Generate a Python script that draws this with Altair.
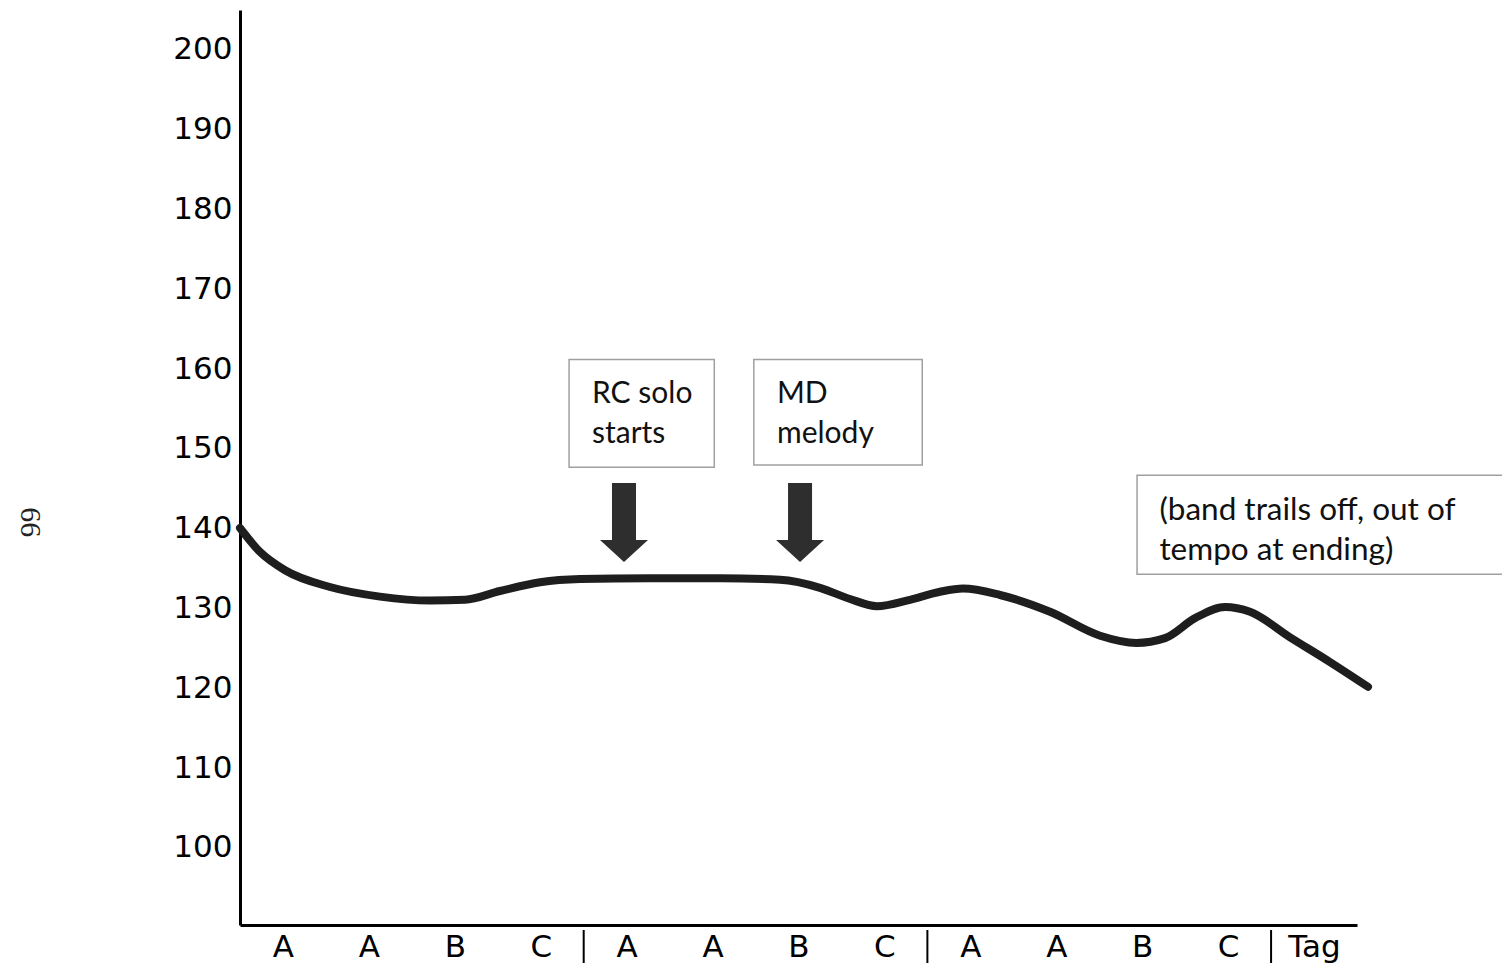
import altair as alt
import pandas as pd

# Tempo curve (x in section units, 0..13; y in BPM)
curve_x = [0, 0.233, 0.524, 1.047, 1.629, 2.211, 2.619, 3.026, 3.492, 3.957, 4.772, 5.587,
           6.285, 6.75, 7.1, 7.414, 7.798, 8.147, 8.415, 8.845, 9.427, 10.01, 10.43,
           10.766, 11.115, 11.464, 11.755, 12.221, 12.686, 13.128]
curve_y = [140.1, 137.1, 134.8, 132.7, 131.5, 131.0, 131.1, 132.2, 133.3, 133.7, 133.8, 133.8,
           133.6, 132.6, 131.2, 130.3, 131.1, 132.1, 132.5, 131.7, 129.6, 126.6, 125.7,
           126.3, 128.8, 130.2, 129.6, 126.4, 123.3, 120.2]

section_labels = ["A", "A", "B", "C", "A", "A", "B", "C", "A", "A", "B", "C", "Tag"]
section_breaks = [4, 8, 12]
y_ticks = [100, 110, 120, 130, 140, 150, 160, 170, 180, 190, 200]

# annotation boxes
box_x = [3.83, 5.98, 10.44]
box_x2 = [5.52, 7.94, 14.78]
box_y = [161.2, 161.2, 146.7]
box_y2 = [147.7, 148.0, 134.3]

# annotation texts
cue_text = ["RC solo", "starts", "MD", "melody"]
cue_x = [4.097, 4.097, 6.25, 6.25]
cue_y = [156.9, 151.9, 156.9, 151.9]

end_text = ["(band trails off, out of", "tempo at ending)"]
end_x = [10.70, 10.70]
end_y = [142.2, 137.2]

# arrows
arrow_x = [4.469, 6.518]
arrow_y = [140.79, 140.79]

W, H = 1117, 915
YDOM = [90.35, 205.0]
XDOM = [0, 13]

xs = alt.Scale(domain=XDOM, nice=False, zero=False)
ys = alt.Scale(domain=YDOM, nice=False, zero=False)

curve_df = pd.DataFrame({"x": curve_x, "y": curve_y})
lab_js = "[" + ",".join("'%s'" % s for s in section_labels) + "]"

base_x_axis = alt.Axis(
    values=[i + 0.5 for i in range(13)],
    labelExpr=lab_js + "[floor(datum.value)]",
    title=None, grid=False, ticks=False, domainColor="black", domainWidth=3,
    labelFont="DejaVu Sans", labelFontSize=31, labelColor="black", labelPadding=7,
)
base_y_axis = alt.Axis(
    values=y_ticks, title=None, grid=False, ticks=False, domainColor="black", domainWidth=3,
    labelFont="DejaVu Sans", labelFontSize=31, labelColor="black", labelPadding=8,
)

line = alt.Chart(curve_df).mark_line(
    interpolate="monotone", color="#1e1e1e", strokeWidth=8, strokeCap="round", strokeJoin="round"
).encode(
    x=alt.X("x:Q", scale=xs, axis=base_x_axis),
    y=alt.Y("y:Q", scale=ys, axis=base_y_axis),
)

breaks = alt.Chart(pd.DataFrame({"x": section_breaks})).mark_rule(
    color="black", strokeWidth=2
).encode(x=alt.X("x:Q", scale=xs), y=alt.value(920), y2=alt.value(956))

boxes = alt.Chart(pd.DataFrame({"x": box_x, "x2": box_x2, "y": box_y, "y2": box_y2})).mark_rect(
    fillOpacity=0, stroke="#a0a0a0", strokeWidth=1.5
).encode(x=alt.X("x:Q", scale=xs), x2="x2:Q", y=alt.Y("y:Q", scale=ys), y2="y2:Q")

cues = alt.Chart(pd.DataFrame({"x": cue_x, "y": cue_y, "t": cue_text})).mark_text(
    align="left", baseline="middle", font="Lato", fontSize=30, color="#111"
).encode(x=alt.X("x:Q", scale=xs), y=alt.Y("y:Q", scale=ys), text="t:N")

ends = alt.Chart(pd.DataFrame({"x": end_x, "y": end_y, "t": end_text})).mark_text(
    align="left", baseline="middle", font="Lato", fontSize=31.5, color="#111"
).encode(x=alt.X("x:Q", scale=xs), y=alt.Y("y:Q", scale=ys), text="t:N")

arrow_path = "M-0.5,-1.646 L0.5,-1.646 L0.5,0.729 L1,0.729 L0,1.646 L-1,0.729 L-0.5,0.729 Z"
arrows = alt.Chart(pd.DataFrame({"x": arrow_x, "y": arrow_y})).mark_point(
    shape=arrow_path, size=2304, filled=True, fill="#2e2e2e", opacity=1, strokeWidth=0
).encode(x=alt.X("x:Q", scale=xs), y=alt.Y("y:Q", scale=ys))

page = alt.Chart(pd.DataFrame({"t": ["66"], "y": [140.8]})).mark_text(
    angle=90, font="Liberation Serif", fontSize=30, color="#222", baseline="middle", align="center"
).encode(x=alt.value(-210), y=alt.Y("y:Q", scale=ys), text="t:N")

chart = alt.layer(boxes, cues, ends, arrows, breaks, line, page).properties(
    width=W, height=H,
    autosize=alt.AutoSizeParams(type="none"),
    padding={"left": 232, "top": 2, "right": 145, "bottom": 38},
).configure(background="white").configure_view(strokeWidth=0)

chart.save("out.html", embed_options={"renderer": "svg", "actions": False})
